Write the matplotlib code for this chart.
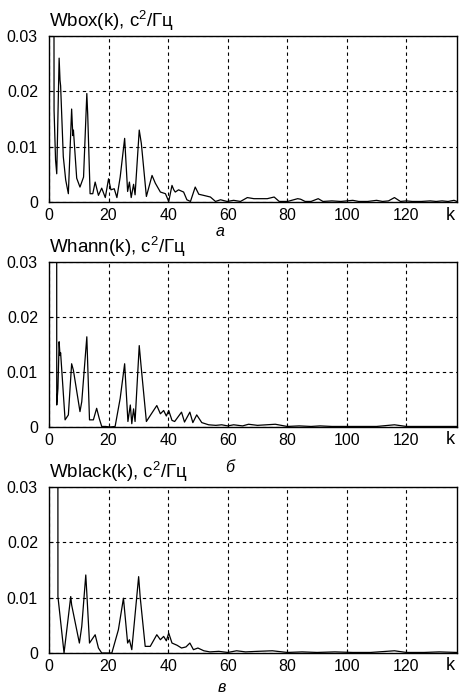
import matplotlib
matplotlib.use("Agg")
import matplotlib.pyplot as plt

plt.rcParams['font.family'] = ['Liberation Sans', 'DejaVu Sans']
plt.rcParams['mathtext.fontset'] = 'custom'
plt.rcParams['mathtext.rm'] = 'Liberation Sans'
plt.rcParams['mathtext.it'] = 'Liberation Sans'
plt.rcParams['mathtext.default'] = 'regular'

# spectrum estimates (k, W)
k_box = [0, 1.4, 1.7, 2.2, 2.6, 3.4, 3.7, 3.9, 4.8, 5.6,
         6.5, 7.6, 8.0, 8.2, 9.3, 10.4, 11.6, 12.7, 13.0, 13.8,
         14.7, 15.5, 16.6, 17.7, 18.9, 20.0, 20.8, 21.9, 22.8, 23.9,
         25.4, 26.4, 27.0, 27.6, 28.4, 28.9, 30.3, 31.0, 32.7, 34.6,
         35.7, 37.4, 39.1, 40.2, 41.3, 41.9, 42.4, 43.5, 45.2, 46.3,
         47.5, 49.1, 50.3, 51.9, 54.2, 55.9, 57.6, 59.8, 62, 64.3,
         66.6, 68.8, 71.1, 73.3, 75.6, 77.3, 80.1, 83.5, 84.5, 86,
         88, 90.4, 92, 95, 98, 100, 102, 104, 107, 110,
         112, 114, 116, 118, 120, 122, 125, 128, 130, 132,
         134, 136, 137]
w_box = [0.2, 0.2, 0.0166, 0.0076, 0.0051, 0.026, 0.022, 0.021, 0.0082, 0.004,
         0.0015, 0.0168, 0.012, 0.013, 0.0043, 0.0027, 0.0045, 0.0196, 0.0158, 0.0015,
         0.0015, 0.0036, 0.0012, 0.0025, 0.0008, 0.0042, 0.0022, 0.0024, 0.0008, 0.0045,
         0.0115, 0.0019, 0.0036, 0.0008, 0.0032, 0.0013, 0.013, 0.0106, 0.001, 0.0048,
         0.0034, 0.0018, 0.0015, 0.0001, 0.003, 0.0022, 0.0018, 0.0022, 0.0018, 0.0004,
         0.0001, 0.0027, 0.0014, 0.0012, 0.0009, 0.0001, 0.0004, 0.0001, 0.0003, 0.0001,
         0.0008, 0.0006, 0.0006, 0.0006, 0.0009, 0.0001, 0.0001, 0.0006, 0.0005, 0.0001,
         0.0001, 0.0006, 0.0001, 0.0002, 0.0001, 0.0002, 0.0003, 0.0001, 0.0001, 0.0003,
         0.0001, 0.0002, 0.0008, 0.0001, 0.0002, 0.0001, 0.0001, 0.0002, 0.0001, 0.0002,
         0.0001, 0.0003, 0.0001]

k_hann = [0, 2.5, 2.6, 3.0, 3.4, 3.7, 3.9, 5.4, 6.5, 7.6,
          8.2, 10.4, 11.0, 12.7, 13.6, 14.9, 16.0, 16.9, 17.7, 19,
          20.5, 22.2, 23.9, 25.4, 26.5, 27.3, 27.8, 28.4, 28.9, 30.3,
          30.9, 32.7, 34.5, 36.2, 37.4, 38.5, 39.4, 40.2, 41.3, 42.2,
          44.5, 45.5, 47.3, 48.3, 49.6, 51.3, 53.6, 56, 58, 60,
          62, 65, 67, 70, 73, 76, 80, 84, 88, 91,
          95, 100, 105, 110, 116, 120, 125, 130, 134, 137]
w_hann = [0.2, 0.2, 0.004, 0.007, 0.0155, 0.013, 0.0135, 0.0013, 0.0022, 0.0115,
          0.0103, 0.0028, 0.0046, 0.0164, 0.0013, 0.0013, 0.0034, 0.0015, 0.0001, 0.0001,
          0.0, 0.0001, 0.0052, 0.0115, 0.001, 0.004, 0.0006, 0.0033, 0.001, 0.0148,
          0.0112, 0.001, 0.0025, 0.0039, 0.0024, 0.003, 0.002, 0.003, 0.0012, 0.001,
          0.0027, 0.0009, 0.0027, 0.0008, 0.0022, 0.0008, 0.0004, 0.0003, 0.0004, 0.0002,
          0.0004, 0.0002, 0.0005, 0.0003, 0.0004, 0.0005, 0.0001, 0.0002, 0.0001, 0.0002,
          0.0001, 0.0001, 0.0001, 0.0001, 0.0004, 0.0001, 0.0001, 0.0001, 0.0001, 0.0001]

k_black = [0, 2.9, 3.0, 5.05, 7.3, 7.6, 10.2, 11.0, 12.35, 12.7,
           13.6, 15.5, 16.6, 17.7, 19.5, 21.1, 23.3, 25.0, 26.4, 27.0,
           27.8, 30.1, 30.6, 32.3, 34.0, 36.2, 37.4, 38.5, 39.4, 40.2,
           41.3, 43, 44.5, 46, 47.3, 48.5, 50, 52, 54, 57,
           60, 63, 66, 70, 75, 80, 85, 90, 96, 102,
           108, 116, 120, 126, 131, 137]
w_black = [0.2, 0.2, 0.0102, 0.0, 0.0102, 0.0087, 0.0018, 0.0048, 0.0141, 0.0108,
           0.0018, 0.0033, 0.0009, 0.0, 0.0, 0.0, 0.0042, 0.0099, 0.0018, 0.0024,
           0.0006, 0.0138, 0.0102, 0.0012, 0.0012, 0.0033, 0.0024, 0.003, 0.0022, 0.0036,
           0.0018, 0.0014, 0.0009, 0.0011, 0.0018, 0.0006, 0.0009, 0.0004, 0.0002, 0.0003,
           0.0001, 0.0004, 0.0002, 0.0003, 0.0004, 0.0001, 0.0002, 0.0001, 0.0002, 0.0001,
           0.0001, 0.0004, 0.0001, 0.0001, 0.0002, 0.0001]

titles = [r'Wbox(k), c$^2$/Гц', r'Whann(k), c$^2$/Гц', r'Wblack(k), c$^2$/Гц']
x_ticks = [0, 20, 40, 60, 80, 100, 120]
y_ticks = [0, 0.01, 0.02, 0.03]
y_tick_labels = ['0', '0.01', '0.02', '0.03']

W, H = 459, 695
fig = plt.figure(figsize=(W / 100, H / 100), dpi=100)

# axes boxes in pixels: (left, top, right, bottom)
boxes = [(49, 36, 457, 202), (49, 262, 457, 427), (49, 487, 457, 653)]
series = [(k_box, w_box), (k_hann, w_hann), (k_black, w_black)]

for (l, t, r, b), (kk, ww), title in zip(boxes, series, titles):
    ax = fig.add_axes([l / W, 1 - b / H, (r - l) / W, (b - t) / H])
    ax.plot(kk, ww, color='black', lw=0.9)
    ax.set_xlim(0, 137)
    ax.set_ylim(0, 0.03)
    ax.set_xticks(x_ticks)
    ax.set_yticks(y_ticks)
    ax.set_yticklabels(y_tick_labels)
    ax.tick_params(direction='in', length=3, width=0.8, labelsize=11.5, colors='black')
    ax.tick_params(axis='y', pad=8)
    ax.tick_params(axis='x', pad=4)
    ax.grid(True, color='black', linestyle=(0, (3, 3)), linewidth=0.8)
    for s in ax.spines.values():
        s.set_linewidth(1.0)
    ax.text(0.0, 1.02, title, transform=ax.transAxes, ha='left', va='bottom', fontsize=13.5)
    fig.text(450 / W, 1 - (b + 13) / H, 'k', ha='center', va='center', fontsize=13)

fig.text(220 / W, 1 - 231 / H, 'а', ha='center', va='center', fontsize=11.5, style='italic')
fig.text(230 / W, 1 - 467 / H, 'б', ha='center', va='center', fontsize=11.5, style='italic')
fig.text(222 / W, 1 - 688 / H, 'в', ha='center', va='center', fontsize=11.5, style='italic')

plt.savefig('out.png', dpi=100)
